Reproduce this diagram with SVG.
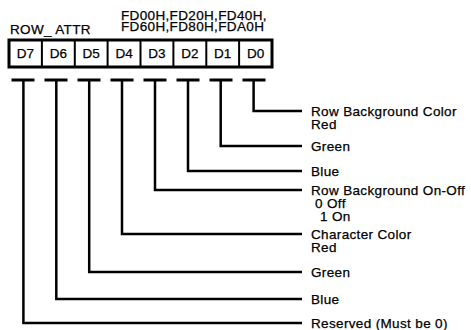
<svg xmlns="http://www.w3.org/2000/svg" width="471" height="330" viewBox="0 0 471 330">
<style>
text{font-family:"Liberation Sans",Arial,sans-serif;font-size:13.5px;letter-spacing:0.35px;fill:#000;stroke:#000;stroke-width:0.25}
.cell{fill:none;stroke:#000;stroke-width:2}
.box{fill:none;stroke:#000;stroke-width:3}
.bit{text-anchor:middle;dominant-baseline:central;letter-spacing:0}
.lbl{dominant-baseline:central}
.c{fill:none;stroke:#000;stroke-width:2.5;stroke-linejoin:miter;stroke-linecap:butt}
.t{stroke:#000;stroke-width:3}
</style>
<rect width="471" height="330" fill="#fff"/>
<g id="title">
<text x="10" y="34">ROW_ ATTR</text>
<text x="121" y="19.5">FD00H,FD20H,FD40H,</text>
<text x="121" y="31">FD60H,FD80H,FDA0H</text>
</g>
<g id="register">
<rect class="box" x="9" y="40" width="263" height="27"/>
<path class="cell" d="M41.9 40V67M74.8 40V67M107.6 40V67M140.5 40V67M173.4 40V67M206.3 40V67M239.1 40V67"/>
<text class="bit" x="25.4" y="53.5">D7</text>
<text class="bit" x="58.3" y="53.5">D6</text>
<text class="bit" x="91.2" y="53.5">D5</text>
<text class="bit" x="124.1" y="53.5">D4</text>
<text class="bit" x="157" y="53.5">D3</text>
<text class="bit" x="189.8" y="53.5">D2</text>
<text class="bit" x="222.7" y="53.5">D1</text>
<text class="bit" x="255.6" y="53.5">D0</text>
</g>
<g id="connectors">
<path class="t" d="M11.5 80H34.5M44.5 80H67.5M77.5 80H100.5M110.5 80H133.5M143.5 80H166.5M176.5 80H199.5M209.5 80H232.5M242.5 80H265.5"/>
<path class="c" d="M253.6 80V111H302"/>
<path class="c" d="M220.7 80V146H302"/>
<path class="c" d="M188 80V171H302"/>
<path class="c" d="M155 80V190H302"/>
<path class="c" d="M122 80V234H302"/>
<path class="c" d="M89.2 80V272H302"/>
<path class="c" d="M56.3 80V299H302"/>
<path class="c" d="M23.4 80V323H302"/>
</g>
<g id="labels">
<text class="lbl" x="311" y="111">Row Background Color</text>
<text class="lbl" x="311" y="124">Red</text>
<text class="lbl" x="311" y="146">Green</text>
<text class="lbl" x="311" y="171">Blue</text>
<text class="lbl" x="311" y="190">Row Background On-Off</text>
<text class="lbl" x="315" y="203">0  Off</text>
<text class="lbl" x="320" y="216">1  On</text>
<text class="lbl" x="311" y="234">Character Color</text>
<text class="lbl" x="311" y="247">Red</text>
<text class="lbl" x="311" y="272">Green</text>
<text class="lbl" x="311" y="299">Blue</text>
<text class="lbl" x="311" y="323">Reserved (Must be 0)</text>
</g>
</svg>
